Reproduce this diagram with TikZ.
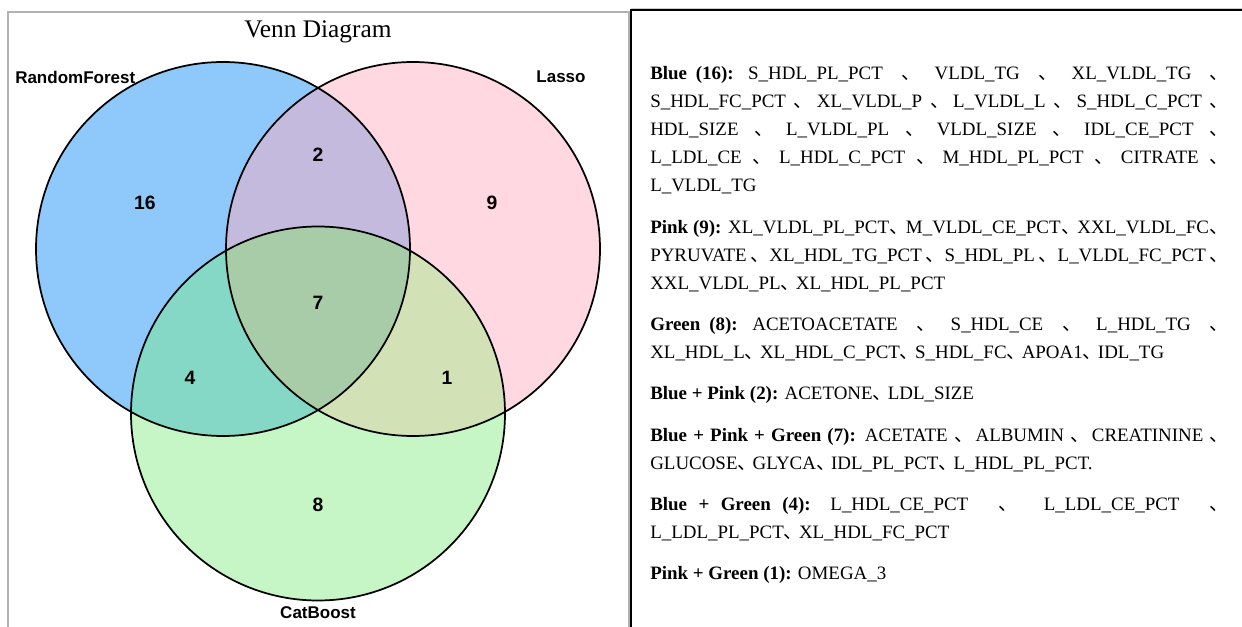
\documentclass[tikz,border=0pt]{standalone}
\usepackage{fontspec}
\setmainfont{Liberation Serif}
\newfontfamily\arialf{Liberation Sans}
\newfontfamily\cjkf{Noto Sans CJK SC}
\definecolor{cblue}{HTML}{8FC8FA}
\definecolor{cpink}{HTML}{FFD8E1}
\definecolor{cgreen}{HTML}{C6F6C6}
\definecolor{cbp}{HTML}{C4BADD}
\definecolor{cbg}{HTML}{86D8C6}
\definecolor{cpg}{HTML}{D3E2B6}
\definecolor{cbpg}{HTML}{A9CCA8}
\newcommand\sepa{\hskip 0pt plus 8pt{\cjkf\makebox[0.8em][l]{、}}\hskip 0pt plus 8pt}
\tikzset{
  numlab/.style={font=\arialf\bfseries\fontsize{14.5}{16}\selectfont, inner sep=0pt},
  setlab/.style={font=\arialf\bfseries\fontsize{12.75}{15}\selectfont, inner sep=0pt},
  ring/.style={draw=black, line width=1.3pt},
}
\begin{document}
\begin{tikzpicture}[x=0.75pt,y=-0.75pt]
\useasboundingbox (0,0) rectangle (1242,627);
\fill[white] (0,0) rectangle (1242,627);
\coordinate (cb) at (223,249);
\coordinate (cp) at (413,249);
\coordinate (cg) at (318,413.5);
% base fills
\fill[cblue] (cb) circle[radius=187];
\fill[cpink] (cp) circle[radius=187];
\fill[cgreen] (cg) circle[radius=187];
\begin{scope}
  \clip (cb) circle[radius=187];
  \fill[cbp] (cp) circle[radius=187];
  \fill[cbg] (cg) circle[radius=187];
\end{scope}
\begin{scope}
  \clip (cp) circle[radius=187];
  \fill[cpg] (cg) circle[radius=187];
\end{scope}
\begin{scope}
  \clip (cb) circle[radius=187];
  \clip (cp) circle[radius=187];
  \fill[cbpg] (cg) circle[radius=187];
\end{scope}
\draw[ring] (cb) circle[radius=187];
\draw[ring] (cp) circle[radius=187];
\draw[ring] (cg) circle[radius=187];
% labels
\node[font=\fontsize{19}{22}\selectfont, inner sep=0pt, anchor=base] (title) at (318,38) {Venn Diagram};
\node[setlab, anchor=west] (rf) at (15,77) {RandomForest};
\node[setlab] (la) at (561,77) {Lasso};
\node[setlab] (cbst) at (318,613) {CatBoost};
\node[numlab] (n16) at (145,203) {16};
\node[numlab] (n2) at (318,155) {2};
\node[numlab] (n9) at (492,203) {9};
\node[numlab] (n7) at (318,303) {7};
\node[numlab] (n4) at (190,378) {4};
\node[numlab] (n1) at (447,378) {1};
\node[numlab] (n8) at (318,505) {8};
% panel borders
\draw[gray!60, line width=1.6pt] (8,627) -- (8,12) -- (629,12) -- (629,627);
\draw[gray!40, line width=0.6pt] (631,8.5) -- (1242,8.5);
\draw[black, line width=1.2pt] (631,627) -- (631,10) -- (1242,10);
% text panel
\node[anchor=base west, inner sep=0pt, text width=431pt, align=justify,
      font=\fontsize{14.2}{21}\selectfont] (txt) at (650,80) {%
\setlength{\parskip}{10pt}\tolerance=10000\hbadness=10000
\textbf{Blue (16):} S\_HDL\_PL\_PCT\sepa VLDL\_TG\sepa XL\_VLDL\_TG\sepa\linebreak
S\_HDL\_FC\_PCT\sepa XL\_VLDL\_P\sepa L\_VLDL\_L\sepa S\_HDL\_C\_PCT\sepa\linebreak
HDL\_SIZE\sepa L\_VLDL\_PL\sepa VLDL\_SIZE\sepa IDL\_CE\_PCT\sepa\linebreak
L\_LDL\_CE\sepa L\_HDL\_C\_PCT\sepa M\_HDL\_PL\_PCT\sepa CITRATE\sepa\linebreak
L\_VLDL\_TG\par
\textbf{Pink (9):} XL\_VLDL\_PL\_PCT\sepa M\_VLDL\_CE\_PCT\sepa XXL\_VLDL\_FC\sepa\linebreak
PYRUVATE\sepa XL\_HDL\_TG\_PCT\sepa S\_HDL\_PL\sepa L\_VLDL\_FC\_PCT\sepa\linebreak
XXL\_VLDL\_PL\sepa XL\_HDL\_PL\_PCT\par
\textbf{Green (8):} ACETOACETATE\sepa S\_HDL\_CE\sepa L\_HDL\_TG\sepa\linebreak
XL\_HDL\_L\sepa XL\_HDL\_C\_PCT\sepa S\_HDL\_FC\sepa APOA1\sepa IDL\_TG\par
\textbf{Blue + Pink (2):} ACETONE\sepa LDL\_SIZE\par
\textbf{Blue + Pink + Green (7):} ACETATE\sepa ALBUMIN\sepa CREATININE\sepa\linebreak
GLUCOSE\sepa GLYCA\sepa IDL\_PL\_PCT\sepa L\_HDL\_PL\_PCT.\par
\textbf{Blue + Green (4):} L\_HDL\_CE\_PCT\sepa L\_LDL\_CE\_PCT\sepa\linebreak
L\_LDL\_PL\_PCT\sepa XL\_HDL\_FC\_PCT\par
\textbf{Pink + Green (1):} OMEGA\_3\par};
\end{tikzpicture}
\end{document}
